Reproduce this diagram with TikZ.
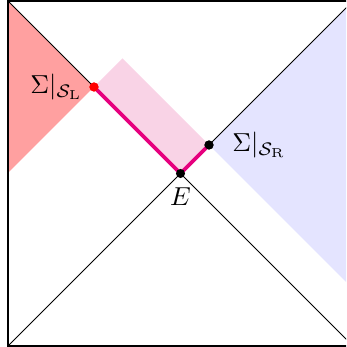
\documentclass[tikz,border=0pt]{standalone}
\definecolor{redfill}{RGB}{255,160,160}
\definecolor{pinkfill}{RGB}{249,211,230}
\definecolor{bluefill}{RGB}{228,228,255}
\definecolor{deeppink}{RGB}{230,0,126}
\tikzset{
  thinline/.style={line width=0.4pt, black},
  surface/.style={line width=1.4pt, deeppink},
  dotnode/.style={circle, fill=#1, inner sep=0pt, minimum size=3.5pt},
  lbl/.style={inner sep=3.33pt}
}
\begin{document}
\begin{tikzpicture}[x=0.385pt,y=0.385pt]
\clip (-8,-1) rectangle (338,346);
\useasboundingbox (-8,-1) rectangle (338,346);
% corners
\coordinate (TL) at (0,345);
\coordinate (TR) at (345,345);
\coordinate (BL) at (0,0);
\coordinate (BR) at (345,0);
% key points
\coordinate (Lp) at (86,259);
\coordinate (Rp) at (201,201);
\coordinate (Ep) at (172.5,172.5);
% fills
\fill[redfill] (TL) -- (Lp) -- (0,173) -- cycle;
\fill[pinkfill] (Lp) -- (114.5,287.5) -- (Rp) -- (Ep) -- cycle;
\fill[bluefill] (Rp) -- (TR) -- (345,57) -- cycle;
% square
\draw[thinline] (BL) rectangle (TR);
% dots
\node[dotnode=red] (L) at (Lp) {};
\node[dotnode=black] (R) at (Rp) {};
% diagonals
\draw[thinline] (TL) -- (L.center);
\draw[thinline] (R.center) -- (TR);
\draw[thinline] (Ep) -- (BL);
\draw[thinline] (Ep) -- (BR);
% surface
\draw[surface] (L.center) -- (Ep) -- (R.center);
\node[dotnode=red] at (Lp) {};
\node[dotnode=black] at (Rp) {};
\node[dotnode=black] (E) at (Ep) {};
% labels
\node[lbl, anchor=east, xshift=-0.9pt] (SL) at (L.center) {$\Sigma|_{\mathcal{S}_\mathrm{L}}$};
\node[lbl, anchor=west, xshift=5.5pt] (SR) at (R.center) {$\Sigma|_{\mathcal{S}_\mathrm{R}}$};
\node[lbl, anchor=north, yshift=-2.1pt] (El) at (E.center) {$E$};
\end{tikzpicture}
\end{document}
